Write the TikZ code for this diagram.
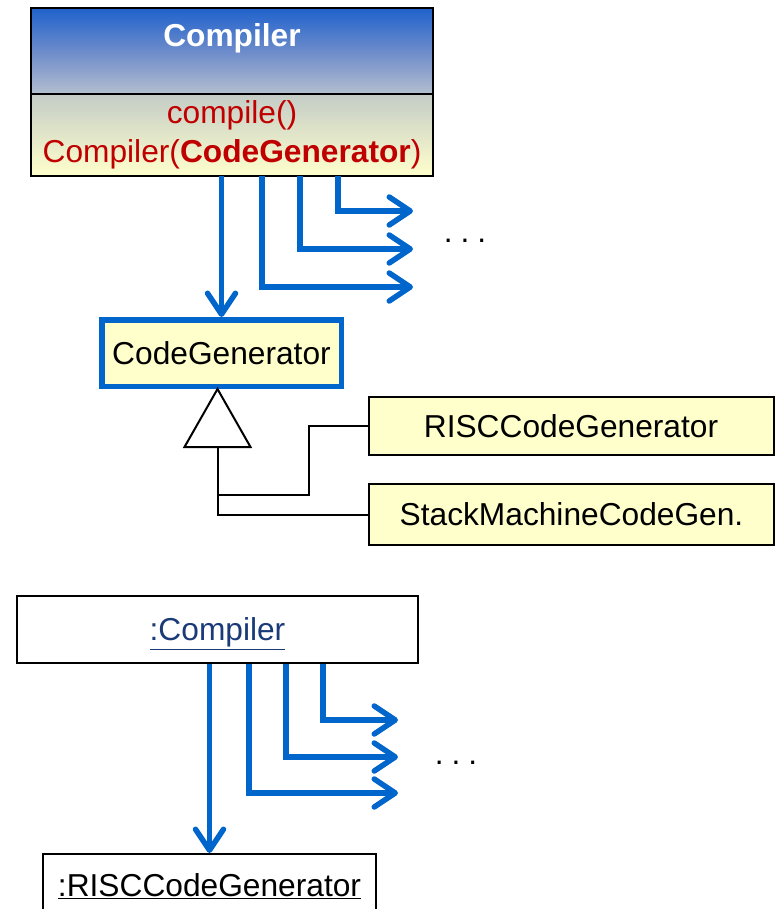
\documentclass[tikz,border=0pt]{standalone}
\usepackage{fontspec}
\setmainfont{Liberation Sans}
\usetikzlibrary{positioning, arrows.meta, calc}
\definecolor{cCall}{HTML}{0066CC}
\definecolor{cNote}{HTML}{FFFFCC}
\definecolor{cHeadTop}{HTML}{1F62CC}
\definecolor{cHeadMid}{HTML}{6C8BCB}
\definecolor{cHeadBot}{HTML}{B4BFCF}
\definecolor{cOpsTop}{HTML}{C4CCC6}
\definecolor{cOpsText}{HTML}{C00000}
\definecolor{cObjText}{HTML}{1B3A78}
\tikzset{
  umlfont/.style={font=\fontsize{31.7}{39}\selectfont},
  headbox/.style={
    draw=black, line width=2pt, outer sep=0pt,
    top color=cHeadTop, bottom color=cHeadBot, middle color=cHeadMid,
    minimum width=402pt, minimum height=86pt
  },
  opsbox/.style={
    draw=black, line width=2pt, outer sep=0pt,
    top color=cOpsTop, bottom color=cNote,
    minimum width=402pt, minimum height=82pt,
    umlfont, text=cOpsText, align=center, inner sep=0pt
  },
  ifacebox/.style={
    draw=cCall, fill=cNote, line width=5.5pt,
    minimum width=239.5pt, minimum height=66.5pt,
    umlfont, text height=22.7pt, text depth=0pt, inner sep=0pt
  },
  classbox/.style={
    draw=black, fill=cNote, line width=2pt,
    minimum width=405pt, minimum height=#1,
    umlfont, text height=22.7pt, text depth=0pt, inner sep=0pt
  },
  objbox/.style={
    draw=black, fill=white, line width=2pt,
    minimum width=#1, minimum height=66pt,
    umlfont, text height=22.7pt, text depth=0pt, inner sep=0pt
  },
  callarrow/.style={
    draw=cCall, line width=5.5pt,
    -{Straight Barb[length=21pt, width=28pt, round]}
  },
  inhline/.style={draw=black, line width=2pt},
  dotsnode/.style={umlfont, anchor=base, inner sep=0pt},
}

\begin{document}
\begin{tikzpicture}[x=1pt, y=-1pt]
\useasboundingbox (0,0) rectangle (775,909);

% ---- class Compiler ----
\node[headbox] (cmphead) at (232,51) {};
\node[umlfont, text=white, anchor=base, inner sep=0pt] (cmptitle) at (232,47)
  {\bfseries Compiler};
\node[opsbox, below=0pt of cmphead] (cmpops)
  {compile()\\Compiler(\textbf{CodeGenerator})};

% ---- class hierarchy ----
\node[ifacebox] (cg) at (221.5,353) {CodeGenerator};
\node[classbox=58pt] (risc) at (571,426) {RISCCodeGenerator};
\node[classbox=61pt] (stack) at (571.5,514.5) {StackMachineCodeGen.};

% calls out of Compiler
\coordinate (c1) at (413,211);
\coordinate (c2) at (413,249);
\coordinate (c3) at (413,287);
\draw[callarrow] (cg.north |- cmpops.south) -- (cg.north);
\draw[callarrow] ([xshift=106pt]cmpops.south) |- (c1);
\draw[callarrow] ([xshift=68pt]cmpops.south) |- (c2);
\draw[callarrow] ([xshift=30pt]cmpops.south) |- (c3);
\node[dotsnode] (more1) at (465,243) {.\hspace{0.25em}.\hspace{0.25em}.};

% generalization
\coordinate (apex) at ([xshift=-4pt]cg.south);
\draw[inhline, fill=white] (apex) -- ++(-33,58) -- ++(66,0) -- cycle;
\coordinate (tribase) at ($(apex)+(0,58)$);
\coordinate (join) at ($(apex)+(0,106)$);
\draw[inhline] (tribase) |- (stack.west);
\draw[inhline] (risc.west) -- ++(-59,0) |- (join);

% ---- objects ----
\node[objbox=401pt, minimum height=67pt] (objc) at (217.5,629.5)
  {\color{cObjText}\underline{:Compiler}};
\node[objbox=333pt, minimum height=62pt] (rcg) at (209.5,885)
  {\underline{:RISCCodeGenerator}};

\coordinate (d1) at (398,720);
\coordinate (d2) at (398,757);
\coordinate (d3) at (398,793);
\draw[callarrow] (rcg.north |- objc.south) -- (rcg.north);
\draw[callarrow] ([xshift=105.5pt]objc.south) |- (d1);
\draw[callarrow] ([xshift=68.5pt]objc.south) |- (d2);
\draw[callarrow] ([xshift=31.5pt]objc.south) |- (d3);
\node[dotsnode] (more2) at (456,764) {.\hspace{0.25em}.\hspace{0.25em}.};

\end{tikzpicture}
\end{document}
